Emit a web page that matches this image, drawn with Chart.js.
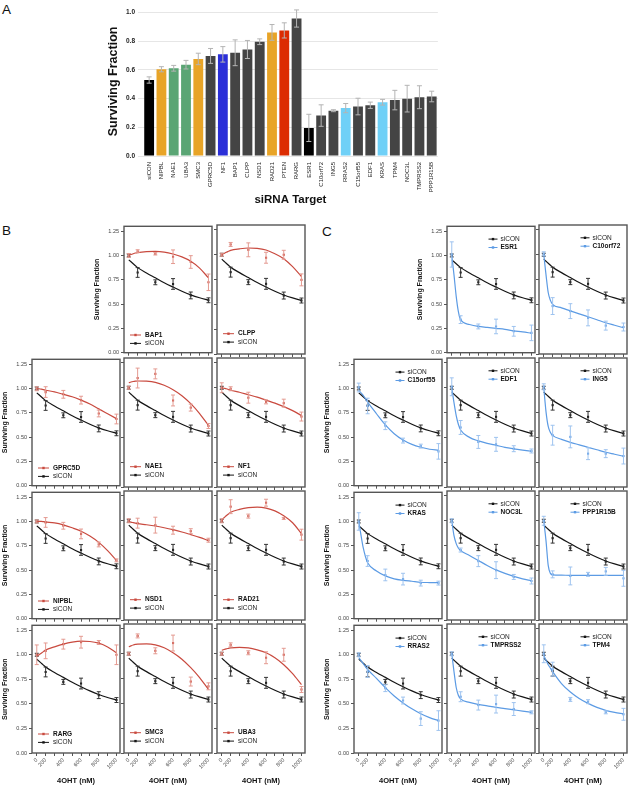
<!DOCTYPE html>
<html>
<head>
<meta charset="utf-8">
<script src="https://cdn.jsdelivr.net/npm/chart.js@4.4.1/dist/chart.umd.min.js"></script>
<style>
  body { margin: 0; background: #fff; width: 629px; height: 786px; position: relative; overflow: hidden;
         font-family: "Liberation Sans", Arial, Helvetica, sans-serif; }
  canvas { position: absolute; }
  .tag { position: absolute; font-size: 13.5px; line-height: 1; color: #111; }
</style>
</head>
<body>
<div class="tag" style="left:2px;top:3px">A</div>
<div class="tag" style="left:2px;top:224px">B</div>
<div class="tag" style="left:322px;top:225px">C</div>

<script>
// ---- panel A: surviving fraction per siRNA target ----
const targets = ["siCON", "NIPBL", "NAE1", "UBA3", "SMC3", "GPRC5D", "NF1", "BAP1", "CLPP", "NSD1", "RAD21", "PTEN", "RARG",
  "ESR1", "C10orf72", "ING5", "RRAS2", "C15orf55", "EDF1", "KRAS", "TPM4", "NOC3L", "TMPRSS2", "PPP1R15B"];
const survival = [0.53, 0.605, 0.612, 0.637, 0.677, 0.698, 0.709, 0.72, 0.743, 0.797, 0.862, 0.876, 0.959,
  0.196, 0.282, 0.316, 0.334, 0.345, 0.354, 0.375, 0.39, 0.40, 0.41, 0.415];
const survivalErr = [0.022, 0.018, 0.02, 0.03, 0.04, 0.052, 0.054, 0.09, 0.063, 0.02, 0.055, 0.053, 0.06,
  0.095, 0.075, 0.007, 0.032, 0.058, 0.022, 0.02, 0.068, 0.093, 0.08, 0.037];
const survivalTicks = [0, 0.2, 0.4, 0.6, 0.8, 1.0];

// ---- panels B and C: dose response ----
const doses = [0, 200, 400, 600, 800, 1000];
const doseLabels = ["0", "200", "400", "600", "800", "1000"];
const doseMarks = [0, 200, 300, 400, 500, 600, 700, 800, 900, 1000];
const fitDoses = [0, 50, 100, 150, 200, 300, 400, 500, 600, 700, 800, 900, 1000];
const fractionTicks = [0, 0.25, 0.5, 0.75, 1.0, 1.25];

const siconMean = [1.00, 0.825, 0.724, 0.707, 0.589, 0.539];
const siconErr = [0.015, 0.05, 0.025, 0.055, 0.035, 0.025];
const siconFit = [0.955, 0.935, 0.915, 0.895, 0.875, 0.82, 0.77, 0.72, 0.675, 0.632, 0.595, 0.565, 0.54];

const bGenes = ["BAP1", "CLPP", "GPRC5D", "NAE1", "NF1", "NIPBL", "NSD1", "RAD21", "RARG", "SMC3", "UBA3"];
const bMean = [
  [1.00, 1.044, 1.017, 0.987, 0.933, 0.724],
  [1.00, 1.104, 1.05, 0.97, 1.00, 0.747],
  [0.997, 0.963, 0.94, 0.88, 0.743, 0.686],
  [1.00, 1.098, 1.14, 0.872, 0.80, 0.615],
  [1.00, 0.99, 0.90, 0.858, 0.845, 0.71],
  [1.00, 0.99, 0.956, 0.872, 0.764, 0.60],
  [1.00, 0.976, 0.956, 0.905, 0.895, 0.804],
  [1.00, 1.142, 1.047, 1.182, 1.024, 0.86],
  [1.00, 1.04, 1.108, 1.128, 1.125, 1.00],
  [1.00, 1.18, 1.03, 1.108, 0.72, 0.672],
  [1.00, 1.09, 1.01, 0.96, 0.99, 0.64]
];
const bErr = [
  [0.02, 0.015, 0.012, 0.07, 0.065, 0.085],
  [0.015, 0.02, 0.07, 0.055, 0.045, 0.06],
  [0.02, 0.055, 0.04, 0.04, 0.035, 0.05],
  [0.015, 0.1, 0.05, 0.055, 0.035, 0.025],
  [0.05, 0.02, 0.055, 0.02, 0.04, 0.045],
  [0.015, 0.05, 0.035, 0.05, 0.025, 0.015],
  [0.02, 0.05, 0.08, 0.04, 0.025, 0.02],
  [0.02, 0.07, 0.02, 0.035, 0.01, 0.055],
  [0.1, 0.08, 0.05, 0.06, 0.02, 0.1],
  [0.015, 0.02, 0.03, 0.08, 0.045, 0.035],
  [0.015, 0.02, 0.02, 0.06, 0.065, 0.03]
];
const bFit = [
  [1.00, 1.01, 1.018, 1.025, 1.03, 1.04, 1.042, 1.035, 1.015, 0.985, 0.94, 0.87, 0.77],
  [1.00, 1.013, 1.025, 1.035, 1.045, 1.06, 1.068, 1.065, 1.048, 1.01, 0.96, 0.88, 0.78],
  [1.00, 0.997, 0.993, 0.988, 0.982, 0.965, 0.94, 0.915, 0.88, 0.84, 0.79, 0.74, 0.69],
  [1.05, 1.058, 1.063, 1.066, 1.068, 1.066, 1.055, 1.025, 0.98, 0.92, 0.84, 0.74, 0.62],
  [1.00, 0.995, 0.99, 0.983, 0.975, 0.955, 0.93, 0.905, 0.875, 0.845, 0.81, 0.77, 0.72],
  [1.00, 1.00, 1.00, 0.998, 0.995, 0.985, 0.965, 0.935, 0.90, 0.85, 0.785, 0.70, 0.60],
  [0.99, 0.986, 0.981, 0.976, 0.971, 0.96, 0.947, 0.93, 0.91, 0.887, 0.86, 0.832, 0.80],
  [1.01, 1.03, 1.05, 1.068, 1.085, 1.115, 1.132, 1.137, 1.128, 1.10, 1.05, 0.98, 0.87],
  [0.985, 1.00, 1.016, 1.032, 1.048, 1.08, 1.108, 1.128, 1.138, 1.135, 1.118, 1.08, 1.02],
  [1.07, 1.08, 1.088, 1.094, 1.098, 1.10, 1.09, 1.06, 1.01, 0.945, 0.86, 0.76, 0.64],
  [1.035, 1.043, 1.05, 1.055, 1.06, 1.065, 1.06, 1.04, 1.01, 0.96, 0.89, 0.80, 0.69]
];

const cGenes = ["ESR1", "C10orf72", "C15orf55", "EDF1", "ING5", "KRAS", "NOC3L", "PPP1R15B", "RRAS2", "TMPRSS2", "TPM4"];
const cMean = [
  [1.01, 0.34, 0.27, 0.27, 0.22, 0.204],
  [1.01, 0.483, 0.432, 0.364, 0.286, 0.272],
  [1.01, 0.82, 0.617, 0.464, 0.407, 0.353],
  [1.01, 0.60, 0.454, 0.43, 0.386, 0.363],
  [1.01, 0.522, 0.505, 0.336, 0.336, 0.312],
  [1.00, 0.593, 0.45, 0.407, 0.366, 0.366],
  [1.00, 0.705, 0.593, 0.502, 0.434, 0.393],
  [1.00, 0.46, 0.444, 0.46, 0.49, 0.42],
  [1.00, 0.83, 0.66, 0.534, 0.35, 0.33],
  [1.00, 0.567, 0.483, 0.493, 0.443, 0.41],
  [1.00, 0.845, 0.54, 0.517, 0.41, 0.39]
];
const cErr = [
  [0.13, 0.04, 0.025, 0.075, 0.05, 0.08],
  [0.02, 0.085, 0.075, 0.08, 0.045, 0.04],
  [0.045, 0.08, 0.04, 0.025, 0.02, 0.08],
  [0.09, 0.07, 0.065, 0.07, 0.03, 0.02],
  [0.03, 0.1, 0.11, 0.06, 0.04, 0.08],
  [0.09, 0.055, 0.06, 0.06, 0.03, 0.02],
  [0.02, 0.02, 0.055, 0.085, 0.025, 0.03],
  [0.045, 0.035, 0.09, 0.02, 0.04, 0.08],
  [0.02, 0.06, 0.035, 0.035, 0.07, 0.1],
  [0.02, 0.05, 0.05, 0.09, 0.065, 0.015],
  [0.09, 0.07, 0.02, 0.02, 0.015, 0.06]
];
const cFit = [
  [1.00, 0.80, 0.58, 0.42, 0.34, 0.29, 0.27, 0.26, 0.25, 0.24, 0.225, 0.215, 0.20],
  [1.00, 0.80, 0.62, 0.54, 0.50, 0.465, 0.435, 0.405, 0.375, 0.345, 0.315, 0.29, 0.265],
  [0.98, 0.955, 0.93, 0.895, 0.86, 0.74, 0.625, 0.535, 0.47, 0.425, 0.395, 0.375, 0.365],
  [1.00, 0.85, 0.72, 0.63, 0.575, 0.50, 0.465, 0.44, 0.42, 0.40, 0.385, 0.372, 0.36],
  [1.00, 0.76, 0.61, 0.55, 0.52, 0.48, 0.45, 0.425, 0.40, 0.375, 0.35, 0.33, 0.31],
  [1.00, 0.86, 0.73, 0.64, 0.575, 0.49, 0.44, 0.41, 0.395, 0.385, 0.375, 0.372, 0.37],
  [1.00, 0.85, 0.77, 0.725, 0.70, 0.65, 0.60, 0.55, 0.505, 0.47, 0.44, 0.415, 0.395],
  [1.00, 0.80, 0.55, 0.47, 0.455, 0.452, 0.45, 0.45, 0.45, 0.45, 0.45, 0.45, 0.45],
  [0.97, 0.94, 0.91, 0.88, 0.85, 0.76, 0.665, 0.58, 0.51, 0.45, 0.40, 0.36, 0.33],
  [1.00, 0.82, 0.66, 0.58, 0.545, 0.51, 0.49, 0.475, 0.46, 0.448, 0.435, 0.422, 0.41],
  [0.985, 0.935, 0.89, 0.855, 0.82, 0.70, 0.615, 0.55, 0.50, 0.46, 0.43, 0.41, 0.395]
];

// ---- styles and layout ----
const barColors = ["#000000", "#e8a427", "#5aa574", "#5aa574", "#e8a427", "#444444", "#2b2fd8", "#444444", "#444444",
  "#444444", "#e8a427", "#dc2c02", "#444444", "#000000", "#444444", "#444444", "#6fd0f7", "#444444", "#444444",
  "#6fd0f7", "#444444", "#444444", "#444444", "#444444"];
const themeB = { line: "#c94a3f", err: "#e49a91" };
const themeC = { line: "#5c9be4", err: "#9ec3ef" };
const themeCon = { line: "#151515", err: "#333333" };

const BOX_W = 88, BOX_H = 129;
const rowTops = [225, 358, 491, 624];
const colLeftsB = [32, 124, 217];
const colLeftsC = [354, 447, 539];
const cLegendX = [53.5, 53.5, 53.5, 53.5, 53.5, 53.5, 53.5, 43.5, 53.5, 43.5, 53.5];

const FONT = '"Liberation Sans", Arial, Helvetica, sans-serif';
Chart.defaults.font.family = FONT;
Chart.defaults.color = "#333";
Chart.defaults.animation = false;

// dose axis: the 0 dose sits one step left of 200, where 100 would be
class DoseScale extends Chart.LinearScale {
  getPixelForValue(value) {
    return super.getPixelForValue(value < 200 ? 100 + value / 2 : value);
  }
  getValueForPixel(pixel) {
    const v = super.getValueForPixel(pixel);
    return v < 200 ? (v - 100) * 2 : v;
  }
}
DoseScale.id = "dose";
DoseScale.defaults = Chart.LinearScale.defaults;
Chart.register(DoseScale);

// error bars for any dataset carrying an `errors` array
const errorBars = {
  id: "errorBars",
  afterDatasetDraw(chart, args) {
    const ds = chart.data.datasets[args.index];
    if (!ds.errors) return;
    const ctx = chart.ctx;
    const yScale = chart.scales.y;
    ctx.save();
    ctx.strokeStyle = ds.errorColor;
    ctx.lineWidth = 1;
    args.meta.data.forEach((el, i) => {
      const v = args.meta.controller.getParsed(i).y;
      const e = ds.errors[i];
      const top = yScale.getPixelForValue(v + e);
      const bot = yScale.getPixelForValue(v - e);
      const cap = ds.errorCap;
      ctx.beginPath();
      ctx.moveTo(el.x, top); ctx.lineTo(el.x, bot);
      ctx.moveTo(el.x - cap, top); ctx.lineTo(el.x + cap, top);
      ctx.moveTo(el.x - cap, bot); ctx.lineTo(el.x + cap, bot);
      ctx.stroke();
    });
    ctx.restore();
  }
};

// frame around each small plot
const frame = {
  id: "frame",
  afterDraw(chart, args, opts) {
    if (!opts.show) return;
    const { ctx, chartArea: a } = chart;
    ctx.save();
    ctx.strokeStyle = "#555";
    ctx.lineWidth = 1.4;
    ctx.strokeRect(a.left, a.top, a.right - a.left, a.bottom - a.top);
    ctx.restore();
  }
};

// in-plot legend
const panelLegend = {
  id: "panelLegend",
  afterDraw(chart, args, opts) {
    if (!opts.items) return;
    const { ctx, chartArea: a } = chart;
    ctx.save();
    opts.items.forEach((it, i) => {
      const y = a.top + opts.y + i * 8.4;
      const x0 = a.left + opts.x;
      ctx.strokeStyle = it.color;
      ctx.fillStyle = it.color;
      ctx.lineWidth = 1;
      ctx.beginPath();
      ctx.moveTo(x0, y); ctx.lineTo(x0 + opts.len, y);
      ctx.stroke();
      ctx.fillRect(x0 + opts.len / 2 - 1.2, y - 1.2, 2.4, 2.4);
      ctx.font = (it.bold ? "bold " : "") + "6.5px " + FONT;
      ctx.fillStyle = it.bold ? "#111" : "#222";
      ctx.textBaseline = "middle";
      ctx.fillText(it.text, a.left + opts.textX, y);
    });
    ctx.restore();
  }
};

Chart.register(errorBars, frame, panelLegend);

function addCanvas(left, top, w, h) {
  const c = document.createElement("canvas");
  c.width = w; c.height = h;
  c.style.left = left + "px"; c.style.top = top + "px";
  c.style.width = w + "px"; c.style.height = h + "px";
  document.body.appendChild(c);
  return c;
}

function points(values) {
  return values.map((v, i) => ({ x: doses[i], y: v }));
}
function fitLine(values) {
  return values.map((v, i) => ({ x: fitDoses[i], y: v }));
}

function dosePanel(left, top, showY, showX, gene, mean, err, fit, theme, legend) {
  const L = showY ? 32 : 4, R = 4, T = 4, B = showX ? 32 : 4;
  const canvas = addCanvas(left - L, top - T, L + BOX_W + R, T + BOX_H + B);

  const geneItem = { text: gene, color: theme.line, bold: true };
  const conItem = { text: "siCON", color: themeCon.line, bold: false };

  new Chart(canvas, {
    type: "line",
    data: {
      datasets: [
        { data: points(mean), showLine: false, pointStyle: "rect", pointRadius: 1.5, pointBorderWidth: 0,
          pointBackgroundColor: theme.line, errors: err, errorColor: theme.err, errorCap: 2 },
        { data: fitLine(fit), borderColor: theme.line, borderWidth: 1.2, pointRadius: 0,
          cubicInterpolationMode: "monotone", fill: false },
        { data: points(siconMean), showLine: false, pointStyle: "rect", pointRadius: 1.5, pointBorderWidth: 0,
          pointBackgroundColor: themeCon.line, errors: siconErr, errorColor: themeCon.err, errorCap: 2 },
        { data: fitLine(siconFit), borderColor: themeCon.line, borderWidth: 1.2, pointRadius: 0,
          cubicInterpolationMode: "monotone", fill: false }
      ]
    },
    options: {
      responsive: false,
      devicePixelRatio: 1,
      events: [],
      layout: { autoPadding: false, padding: { top: T, right: R, left: 0, bottom: 0 } },
      plugins: {
        legend: { display: false },
        tooltip: { enabled: false },
        frame: { show: true },
        panelLegend: legend.top
          ? { items: [conItem, geneItem], x: legend.x - 12, len: 9, textX: legend.x, y: 12.8 }
          : { items: [geneItem, conItem], x: 6, len: 11, textX: 21, y: BOX_H - 20.3 }
      },
      scales: {
        x: {
          type: "dose", min: 46, max: 1040,
          afterBuildTicks: (s) => { s.ticks = doseMarks.map((v) => ({ value: v })); },
          afterFit: (s) => { s.height = B; },
          border: { display: false },
          grid: { drawOnChartArea: false, drawTicks: true, tickLength: 3, color: "#555", lineWidth: 1 },
          ticks: {
            display: showX, autoSkip: false, minRotation: 45, maxRotation: 45, padding: 1,
            font: { size: 5.5 }, color: "#444",
            callback: (v) => { const i = doses.indexOf(v); return i >= 0 ? doseLabels[i] : ""; }
          },
          title: { display: showX, text: "4OHT (nM)", color: "#111", font: { size: 7.5, weight: "bold" },
                   padding: { top: 0, bottom: 0 } }
        },
        y: {
          min: 0, max: 1.3,
          afterBuildTicks: (s) => { s.ticks = fractionTicks.map((v) => ({ value: v })); },
          afterFit: (s) => { s.width = L; },
          border: { display: false },
          grid: { drawOnChartArea: false, drawTicks: true, tickLength: 3, color: "#555", lineWidth: 1 },
          ticks: { display: showY, padding: 2, font: { size: 5.5 }, color: "#444",
                   callback: (v) => v.toFixed(2) },
          title: { display: showY, text: "Surviving Fraction", color: "#111",
                   font: { size: 7, weight: "bold" }, padding: { top: 1, bottom: 0 } }
        }
      }
    }
  });
}

// panel B and C grids: first row holds two plots in columns 2 and 3
bGenes.forEach((g, i) => {
  const slot = i + 1, row = Math.floor(slot / 3), col = slot % 3;
  dosePanel(colLeftsB[col], rowTops[row], col === 0 || (row === 0 && col === 1), row === 3,
    g, bMean[i], bErr[i], bFit[i], themeB, { top: false });
});
cGenes.forEach((g, i) => {
  const slot = i + 1, row = Math.floor(slot / 3), col = slot % 3;
  dosePanel(colLeftsC[col], rowTops[row], col === 0 || (row === 0 && col === 1), row === 3,
    g, cMean[i], cErr[i], cFit[i], themeC, { top: true, x: cLegendX[i] });
});

// panel A bar chart
const canvasA = addCanvas(106, 0, 339, 207);
new Chart(canvasA, {
  type: "bar",
  data: {
    labels: targets,
    datasets: [{
      data: survival, backgroundColor: barColors, barPercentage: 0.8, categoryPercentage: 1,
      errors: survivalErr, errorColor: "#b4b4b4", errorCap: 2.5
    }]
  },
  options: {
    responsive: false,
    devicePixelRatio: 1,
    events: [],
    layout: { autoPadding: false, padding: { top: 2.4, right: 4, left: 0, bottom: 0 } },
    plugins: { legend: { display: false }, tooltip: { enabled: false } },
    scales: {
      x: {
        afterFit: (s) => { s.height = 207 - 156; },
        border: { display: false },
        grid: { display: false, drawTicks: false },
        ticks: { autoSkip: false, minRotation: 90, maxRotation: 90, padding: 6, font: { size: 6 }, color: "#222" },
        title: { display: true, text: "siRNA Target", color: "#111", font: { size: 11.5, weight: "bold" },
                 padding: { top: 0, bottom: 0 } }
      },
      y: {
        min: 0, max: 1.04,
        afterBuildTicks: (s) => { s.ticks = survivalTicks.map((v) => ({ value: v })); },
        afterFit: (s) => { s.width = 37; },
        border: { display: false },
        grid: { color: "#e6e6e6", lineWidth: 1, drawTicks: true, tickLength: 5 },
        ticks: { padding: 3, font: { size: 6.5, weight: "bold" }, color: "#222",
                 callback: (v) => v.toFixed(1) },
        title: { display: true, text: "Surviving Fraction", color: "#111", font: { size: 12.5, weight: "bold" },
                 padding: { top: 0, bottom: 0 } }
      }
    }
  }
});
</script>
</body>
</html>
